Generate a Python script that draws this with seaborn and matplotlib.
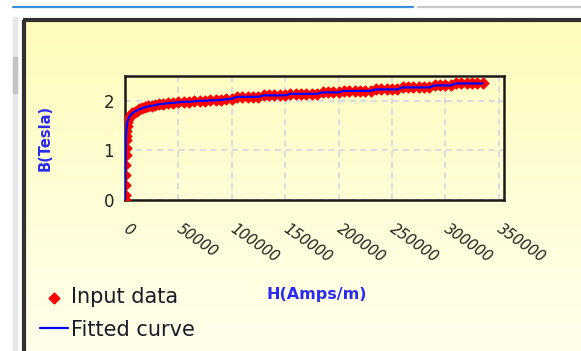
import numpy as np
import matplotlib
matplotlib.use("Agg")
import matplotlib.pyplot as plt
import seaborn as sns
from matplotlib.patches import Rectangle
from matplotlib.lines import Line2D

# ── Data (H in A/m, B in Tesla) ────────────────────────────────
H_data = [0, 100, 200, 300, 400, 500, 600, 800, 1000, 1300, 1700, 2200,
          3000, 4000, 5500, 7000, 9000, 11000, 13500, 16000, 19000, 22000,
          25000, 28000, 32000, 36000, 40000, 45000, 50000, 55000, 60000,
          65000, 70000, 75000, 80000, 85000, 90000, 95000, 100000,
          105000, 110000, 115000, 120000, 125000,
          130000, 135000, 140000, 145000, 150000,
          155000, 160000, 165000, 170000, 175000, 180000,
          185000, 190000, 195000, 200000,
          205000, 210000, 215000, 220000, 225000, 230000,
          235000, 240000, 245000, 250000, 255000,
          260000, 265000, 270000, 275000, 280000, 285000,
          290000, 295000, 300000, 305000,
          310000, 315000, 320000, 325000, 330000, 335000]
B_data = [0.0, 0.1, 0.3, 0.5, 0.7, 0.9, 1.05, 1.2, 1.3, 1.4, 1.5, 1.57,
          1.63, 1.68, 1.72, 1.75, 1.78, 1.80, 1.83, 1.85, 1.87, 1.89,
          1.90, 1.91, 1.93, 1.94, 1.95, 1.96, 1.97, 1.98, 1.98,
          1.99, 2.00, 2.00, 2.01, 2.01, 2.02, 2.03, 2.04,
          2.08, 2.08, 2.08, 2.08, 2.08,
          2.11, 2.11, 2.11, 2.11, 2.11,
          2.14, 2.14, 2.14, 2.14, 2.14, 2.14,
          2.17, 2.17, 2.17, 2.17,
          2.20, 2.20, 2.20, 2.20, 2.20, 2.20,
          2.23, 2.23, 2.23, 2.23, 2.23,
          2.27, 2.27, 2.27, 2.27, 2.27, 2.27,
          2.31, 2.31, 2.31, 2.31,
          2.35, 2.35, 2.35, 2.35, 2.35, 2.35]

x_ticks = [0, 50000, 100000, 150000, 200000, 250000, 300000, 350000]
y_ticks = [0, 1, 2]

# ── Figure + window decoration ────────────────────────────────
sns.set_style("white")
plt.rcParams["font.family"] = ["DejaVu Sans"]

W, H = 581, 351
fig = plt.figure(figsize=(W / 100, H / 100), dpi=100)
fig.patch.set_facecolor("white")

def px(x0, y0, w, h):
    # pixel box (top-left origin) -> figure fraction
    return [x0 / W, 1 - (y0 + h) / H, w / W, h / H]

# yellow gradient panel
bg = fig.add_axes(px(26, 22, W - 26, H - 22))
grad = np.linspace(0, 1, 256)[:, None]
top = np.array([255, 252, 188]) / 255
bot = np.array([255, 255, 236]) / 255
img = top + (bot - top) * grad[..., None]
bg.imshow(img, aspect="auto", extent=[0, 1, 0, 1])
bg.set_axis_off()

# thin chrome around the panel
fig.patches.append(Rectangle((13 / W, 0), 4 / W, 1 - 17 / H, transform=fig.transFigure,
                             color="#e6e6e6", zorder=0))
fig.patches.append(Rectangle((13 / W, 1 - 93 / H), 4 / W, 36 / H, transform=fig.transFigure,
                             color="#c4c4c4", zorder=0))
fig.lines.append(Line2D([13 / W, 413 / W], [1 - 6.5 / H] * 2, transform=fig.transFigure,
                        color="#3a8ee0", lw=1.6))
fig.lines.append(Line2D([418 / W, 1], [1 - 6.5 / H] * 2, transform=fig.transFigure,
                        color="#c8c8c8", lw=1.6))
fig.lines.append(Line2D([24 / W, 24 / W], [0, 1 - 20 / H], transform=fig.transFigure,
                        color="#303030", lw=3, solid_capstyle="butt"))
fig.lines.append(Line2D([22.5 / W, 1], [1 - 20 / H] * 2, transform=fig.transFigure,
                        color="#303030", lw=3, solid_capstyle="butt"))

# ── Main chart ────────────────────────────────────────────────
ax = fig.add_axes(px(125, 76, 379, 124))
ax.set_facecolor("none")

sns.scatterplot(x=H_data, y=B_data, ax=ax, marker="D", s=30, color="red",
                edgecolor="red", linewidth=1.0, label="Input data", zorder=3)
sns.lineplot(x=H_data, y=B_data, ax=ax, color="blue", lw=1.6, sort=False,
             label="Fitted curve", zorder=4)

ax.set_xlim(0, 355000)
ax.set_ylim(0, 2.5)
ax.set_xticks(x_ticks)
ax.set_yticks(y_ticks)
ax.set_xticklabels([str(t) for t in x_ticks], rotation=-35, ha="left",
                   va="center", rotation_mode="anchor", fontsize=10.5,
                   style="italic", color="#222222")
ax.set_yticklabels([str(t) for t in y_ticks], fontsize=12, color="#222222")
ax.tick_params(axis="x", direction="in", length=2, width=1.5, colors="blue",
               labelcolor="#222222", pad=20)
ax.tick_params(axis="y", direction="in", length=3, width=1.2, colors="blue",
               labelcolor="#222222", pad=8)

ax.grid(True, ls=(0, (4, 3)), color="#d0d2e6", lw=1.1)
for s in ax.spines.values():
    s.set_color("#1a1a1a")
    s.set_linewidth(1.8)

ax.set_xlabel("H(Amps/m)", color="#2a2af0", fontweight="bold", fontsize=11.5)
ax.xaxis.set_label_coords(0.507, -0.70)
ax.set_ylabel("B(Tesla)", color="#2a2af0", fontweight="bold", fontsize=10.5)
ax.yaxis.set_label_coords(-0.19, 0.5)

leg = ax.legend(loc="upper left", bbox_to_anchor=(40 / W, 1 - 287 / H),
                bbox_transform=fig.transFigure, frameon=False, fontsize=15,
                borderpad=0, borderaxespad=0, handlelength=1.35,
                handletextpad=0.15, labelspacing=0.6)
for t in leg.get_texts():
    t.set_color("#1a1a2a")

fig.savefig("out.png", dpi=100)
